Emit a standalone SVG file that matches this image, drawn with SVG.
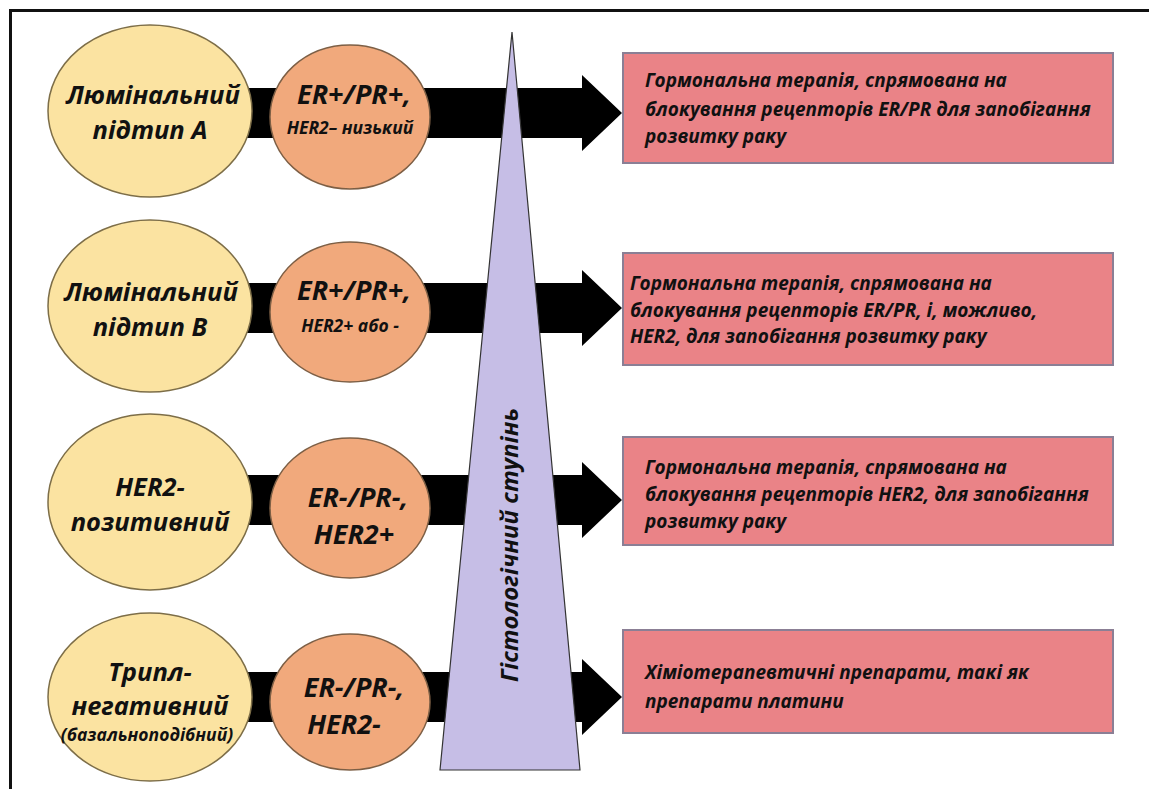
<svg xmlns="http://www.w3.org/2000/svg" width="1149" height="789" viewBox="0 0 1149 789">
<style>
.y{fill:#fbe3a1;stroke:#7d6e48;stroke-width:1.5}
.o{fill:#f1a97c;stroke:#7d5f45;stroke-width:1.5}
.b{fill:#ea8387;stroke:#8b7f95;stroke-width:2}
.t{font-family:"Open Sans",Lato,sans-serif;font-weight:bold;font-style:italic;fill:#111}
.c{text-anchor:middle;font-size:25.5px}
.e{text-anchor:middle;font-size:27px}
.s{text-anchor:middle;font-size:17.5px}
.bx{font-size:19px}
</style>
<rect x="0" y="0" width="1149" height="789" fill="#ffffff"/>
<path d="M10.5 789 V10.5 H1149" fill="none" stroke="#111" stroke-width="3"/>
<g id="connectors">
<path d="M230 88 H582 V75 L622 113 L582 151 V138 H230 Z" fill="#000"/>
<path d="M230 283 H582 V270 L622 308 L582 346 V333 H230 Z" fill="#000"/>
<path d="M230 475 H582 V462 L622 500 L582 538 V525 H230 Z" fill="#000"/>
<path d="M230 672 H582 V659 L622 697 L582 735 V722 H230 Z" fill="#000"/>
</g>
<g id="grade">
<polygon points="512,32 580,770 440,770" fill="#c6bee6" stroke="#333" stroke-width="1.2"/>
<text class="t" font-size="24" text-anchor="middle" transform="translate(518,545) rotate(-90)">Гістологічний ступінь</text>
</g>
<g id="lumA">
<ellipse class="y" cx="150" cy="111" rx="102" ry="86"/>
<text class="t c" x="153" y="104">Люмінальний</text>
<text class="t c" x="150" y="139">підтип А</text>
</g>
<g id="lumA-marker">
<ellipse class="o" cx="350" cy="117" rx="80" ry="72"/>
<text class="t e" x="354" y="104">ER+/PR+,</text>
<text class="t s" x="350" y="134">HER2– низький</text>
</g>
<g id="lumB">
<ellipse class="y" cx="150" cy="306" rx="102" ry="86"/>
<text class="t c" x="151" y="301">Люмінальний</text>
<text class="t c" x="150" y="336">підтип В</text>
</g>
<g id="lumB-marker">
<ellipse class="o" cx="350" cy="312" rx="80" ry="70"/>
<text class="t e" x="354" y="300">ER+/PR+,</text>
<text class="t s" x="350" y="332" font-size="19">HER2+ або -</text>
</g>
<g id="her2">
<ellipse class="y" cx="150" cy="502" rx="102" ry="88"/>
<text class="t c" x="150" y="496">HER2-</text>
<text class="t c" x="150" y="531">позитивний</text>
</g>
<g id="her2-marker">
<ellipse class="o" cx="350" cy="508" rx="80" ry="70"/>
<text class="t e" x="358" y="507">ER-/PR-,</text>
<text class="t e" x="354" y="544">HER2+</text>
</g>
<g id="tn">
<ellipse class="y" cx="150" cy="697" rx="102" ry="84"/>
<text class="t c" x="150" y="681">Трипл-</text>
<text class="t c" x="150" y="715">негативний</text>
<text class="t s" x="147" y="741" font-size="15.5">(базальноподібний)</text>
</g>
<g id="tn-marker">
<ellipse class="o" cx="350" cy="702" rx="80" ry="68"/>
<text class="t e" x="354" y="697">ER-/PR-,</text>
<text class="t e" x="344" y="734">HER2-</text>
</g>
<g id="therapy1">
<rect class="b" x="623" y="53" width="490" height="110"/>
<text class="t bx" x="645" y="87">Гормональна терапія, спрямована на</text>
<text class="t bx" x="645" y="116">блокування рецепторів ER/PR для запобігання</text>
<text class="t bx" x="645" y="143">розвитку раку</text>
</g>
<g id="therapy2">
<rect class="b" x="623" y="253" width="490" height="112"/>
<text class="t bx" x="630" y="290">Гормональна терапія, спрямована на</text>
<text class="t bx" x="630" y="317">блокування рецепторів ER/PR, і, можливо,</text>
<text class="t bx" x="630" y="343">HER2, для запобігання розвитку раку</text>
</g>
<g id="therapy3">
<rect class="b" x="623" y="437" width="490" height="108"/>
<text class="t bx" x="645" y="474">Гормональна терапія, спрямована на</text>
<text class="t bx" x="645" y="501">блокування рецепторів HER2, для запобігання</text>
<text class="t bx" x="645" y="528">розвитку раку</text>
</g>
<g id="therapy4">
<rect class="b" x="623" y="630" width="490" height="103"/>
<text class="t bx" x="645" y="679">Хіміотерапевтичні препарати, такі як</text>
<text class="t bx" x="645" y="708">препарати платини</text>
</g>
</svg>
